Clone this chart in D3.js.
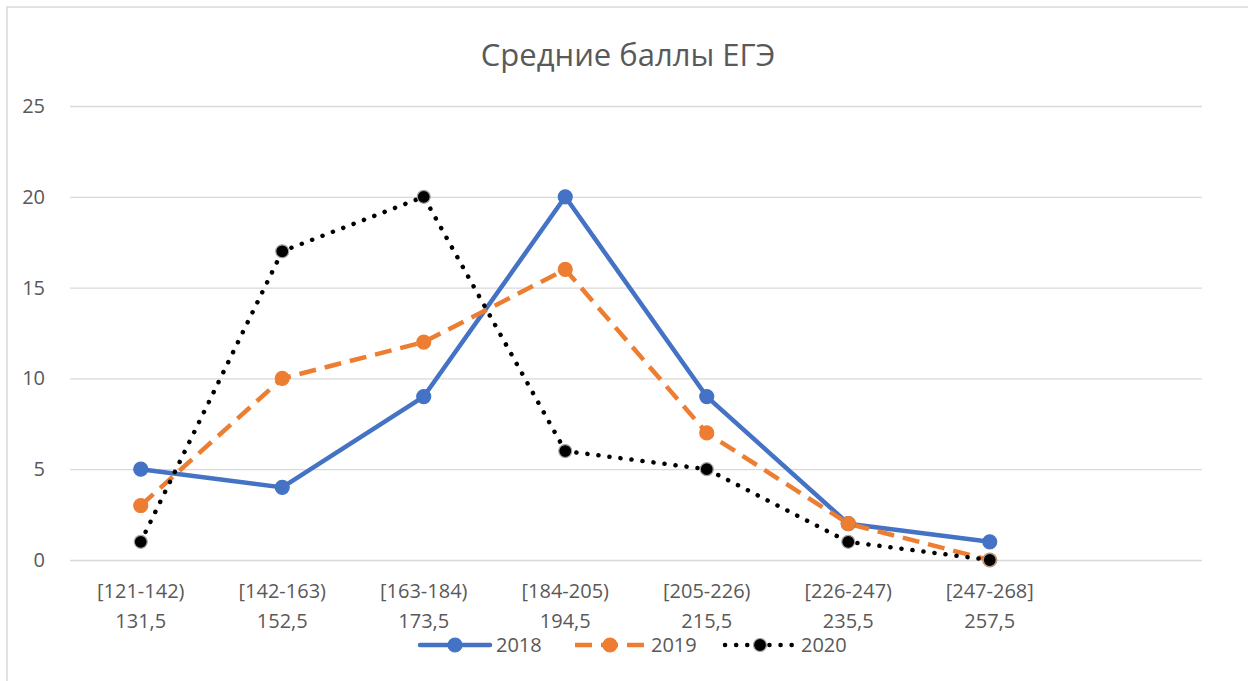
<!DOCTYPE html>
<html>
<head>
    <meta charset="utf-8">
    <title>Средние баллы ЕГЭ</title>
    <script src="https://cdn.jsdelivr.net/npm/d3@7"></script>
    <style>
        body { margin: 0; background: #fff; }
        text { font-family: "Open Sans", "Noto Sans", sans-serif; }
    </style>
</head>
<body>
    <svg width="1248" height="681" id="mainsvg"></svg>
    <script>
        const ranges = ['[121-142)', '[142-163)', '[163-184)', '[184-205)', '[205-226)', '[226-247)', '[247-268]', ''];
        const mids = ['131,5', '152,5', '173,5', '194,5', '215,5', '235,5', '257,5', ''];
        const years = ['2018', '2019', '2020'];
        const v2018 = [5, 4, 9, 20, 9, 2, 1];
        const v2019 = [3, 10, 12, 16, 7, 2, 0];
        const v2020 = [1, 17, 20, 6, 5, 1, 0];
        const yTicks = [0, 5, 10, 15, 20, 25];

        const svg = d3.select('#mainsvg');
        const margin = { top: 106, left: 70, right: 46, bottom: 121 };
        const innerWidth = 1248 - margin.left - margin.right;
        const innerHeight = 681 - margin.top - margin.bottom;

        // frame (only top and left edges are visible in the picture)
        svg.append('path').attr('d', 'M7,681 L7,7 L1248,7')
            .attr('fill', 'none').attr('stroke', '#d9d9d9').attr('stroke-width', 1.5);

        svg.append('text').attr('x', 628).attr('y', 66).attr('text-anchor', 'middle')
            .attr('font-size', 31).attr('fill', '#595959').text('Средние баллы ЕГЭ');

        const g = svg.append('g').attr('transform', `translate(${margin.left},${margin.top})`);

        const xScale = d3.scaleBand().domain(d3.range(ranges.length)).range([0, innerWidth]);
        const yScale = d3.scaleLinear().domain([0, 25]).range([innerHeight, 0]);
        const xc = i => xScale(i) + xScale.bandwidth() / 2;

        const yAxis = d3.axisLeft(yScale).tickValues(yTicks).tickSize(-innerWidth).tickPadding(25);
        const yg = g.append('g').call(yAxis).attr('font-size', 20);
        yg.select('.domain').remove();
        yg.selectAll('.tick line').attr('stroke', '#d9d9d9').attr('stroke-width', 1.3);
        yg.selectAll('.tick text').attr('font-size', 20).attr('fill', '#595959')
            .style('font-family', '"Open Sans", sans-serif');

        // category labels, two lines each
        const xg = g.append('g').attr('transform', `translate(0,${innerHeight})`);
        xg.selectAll('.lab1').data(ranges).enter().append('text')
            .attr('x', (d, i) => xc(i)).attr('y', 38).attr('text-anchor', 'middle')
            .attr('font-size', 20).attr('fill', '#595959').text(d => d);
        xg.selectAll('.lab2').data(mids).enter().append('text')
            .attr('x', (d, i) => xc(i)).attr('y', 68).attr('text-anchor', 'middle')
            .attr('font-size', 20).attr('fill', '#595959').text(d => d);

        const series = [
            { name: years[0], values: v2018, color: '#4472c4', dash: null, cap: 'round', mfill: '#4472c4', mstroke: '#4472c4' },
            { name: years[1], values: v2019, color: '#ed7d31', dash: '17 9', cap: 'butt', mfill: '#ed7d31', mstroke: '#ed7d31' },
            { name: years[2], values: v2020, color: '#000000', dash: '0.1 11', cap: 'round', mfill: '#000000', mstroke: '#a6a6a6' }
        ];

        const line = d3.line().x((d, i) => xc(i)).y(d => yScale(d));

        series.forEach(s => {
            g.append('path').datum(s.values)
                .attr('fill', 'none').attr('stroke', s.color).attr('stroke-width', 4.5)
                .attr('stroke-dasharray', s.dash).attr('stroke-linecap', s.cap)
                .attr('stroke-linejoin', 'round').attr('d', line);
        });
        series.forEach(s => {
            g.selectAll(null).data(s.values).enter().append('circle')
                .attr('cx', (d, i) => xc(i)).attr('cy', d => yScale(d))
                .attr('r', s.name === '2020' ? 6.5 : 7)
                .attr('fill', s.mfill).attr('stroke', s.mstroke).attr('stroke-width', 1.2);
        });

        // legend
        const legendX = [420, 575, 725];
        const lg = svg.append('g').attr('transform', 'translate(0,645)');
        series.forEach((s, i) => {
            const x0 = legendX[i];
            lg.append('line').attr('x1', x0).attr('x2', x0 + 70).attr('y1', 0).attr('y2', 0)
                .attr('stroke', s.color).attr('stroke-width', 4.5)
                .attr('stroke-dasharray', s.dash).attr('stroke-linecap', s.cap);
            lg.append('circle').attr('cx', x0 + 35).attr('cy', 0).attr('r', s.name === '2020' ? 6.5 : 7)
                .attr('fill', s.mfill).attr('stroke', s.mstroke).attr('stroke-width', 1.2);
            lg.append('text').attr('x', x0 + 76).attr('y', 7).attr('font-size', 20)
                .attr('fill', '#595959').text(s.name);
        });
    </script>
</body>
</html>
